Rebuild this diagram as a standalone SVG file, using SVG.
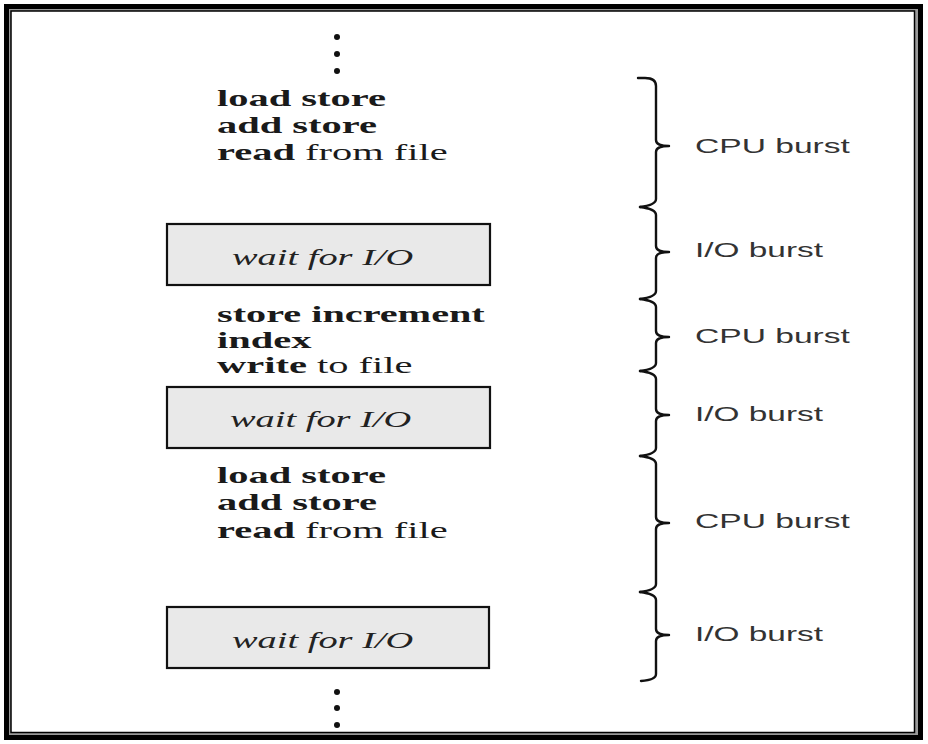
<svg xmlns="http://www.w3.org/2000/svg" width="928" height="744" viewBox="0 0 928 744">
<style>
.code{font-family:"Liberation Serif","Times New Roman",serif;font-size:23px;fill:#1a1a1a}
.b{font-weight:bold}
.box{fill:#e9e9e9;stroke:#111;stroke-width:2.2}
.wait{font-family:"Liberation Serif","Times New Roman",serif;font-size:23px;font-style:italic;fill:#222}
.lbl{font-family:"Liberation Sans",Arial,sans-serif;font-size:20px;fill:#333}
.brace{fill:none;stroke:#111;stroke-width:2.4;stroke-linejoin:round;stroke-linecap:round}
.dot{fill:#111}
</style>
<rect width="928" height="744" fill="#fff"/>
<g id="frame">
<rect x="6.5" y="6.5" width="914" height="731" fill="#9a9a9a" stroke="#000" stroke-width="5"/>
<rect x="11" y="11" width="903.5" height="721.5" fill="#fff" stroke="#000" stroke-width="1.5"/>
</g>
<g id="dots-top">
<circle class="dot" cx="337" cy="37" r="3"/><circle class="dot" cx="337" cy="54" r="3"/><circle class="dot" cx="337" cy="71" r="3"/>
</g>
<g id="cpu1">
<text class="code b" transform="translate(217,106) scale(1.76,1)">load store</text>
<text class="code b" transform="translate(217,133) scale(1.76,1)">add store</text>
<text class="code" transform="translate(217,160) scale(1.76,1)"><tspan class="b">read</tspan> from file</text>
</g>
<g id="io1">
<rect class="box" x="167" y="224" width="323" height="61"/>
<text class="wait" transform="translate(232,265) scale(1.67,1)">wait for I/O</text>
</g>
<g id="cpu2">
<text class="code b" transform="translate(217,322) scale(1.75,1)">store increment</text>
<text class="code b" transform="translate(217,348) scale(1.76,1)">index</text>
<text class="code" transform="translate(217,373) scale(1.76,1)"><tspan class="b">write</tspan> to file</text>
</g>
<g id="io2">
<rect class="box" x="167" y="387" width="323" height="61"/>
<text class="wait" transform="translate(230,427) scale(1.67,1)">wait for I/O</text>
</g>
<g id="cpu3">
<text class="code b" transform="translate(217,483) scale(1.76,1)">load store</text>
<text class="code b" transform="translate(217,510) scale(1.76,1)">add store</text>
<text class="code" transform="translate(217,538) scale(1.76,1)"><tspan class="b">read</tspan> from file</text>
</g>
<g id="io3">
<rect class="box" x="167" y="607" width="322" height="61"/>
<text class="wait" transform="translate(232,648) scale(1.67,1)">wait for I/O</text>
</g>
<g id="dots-bottom">
<circle class="dot" cx="337" cy="692" r="3"/><circle class="dot" cx="337" cy="708" r="3"/><circle class="dot" cx="337" cy="725" r="3"/>
</g>
<g id="connectors">
<path class="brace" d="M638,78 L645,78 Q656,78 656,86 L656,140 Q656,146 669,146 Q656,146 656,152 L656,199 Q656,205 640,207"/>
<path class="brace" d="M640,207 Q656,209 656,215 L656,246 Q656,252 669,252 Q656,252 656,258 L656,291 Q656,297 640,299"/>
<path class="brace" d="M640,299 Q656,301 656,307 L656,331 Q656,337 669,337 Q656,337 656,343 L656,363 Q656,369 640,371"/>
<path class="brace" d="M640,371 Q656,373 656,379 L656,409 Q656,415 669,415 Q656,415 656,421 L656,448 Q656,454 640,456"/>
<path class="brace" d="M640,456 Q656,458 656,464 L656,517 Q656,523 669,523 Q656,523 656,529 L656,584 Q656,590 640,592"/>
<path class="brace" d="M640,592 Q656,594 656,600 L656,629 Q656,635 669,635 Q656,635 656,641 L656,674 Q656,680 641,681"/>
</g>
<g id="label-cpu1"><text class="lbl" transform="translate(695,153) scale(1.68,1)">CPU burst</text></g>
<g id="label-io1"><text class="lbl" transform="translate(695,257) scale(1.67,1)">I/O burst</text></g>
<g id="label-cpu2"><text class="lbl" transform="translate(695,343) scale(1.68,1)">CPU burst</text></g>
<g id="label-io2"><text class="lbl" transform="translate(695,421) scale(1.67,1)">I/O burst</text></g>
<g id="label-cpu3"><text class="lbl" transform="translate(695,528) scale(1.68,1)">CPU burst</text></g>
<g id="label-io3"><text class="lbl" transform="translate(695,641) scale(1.67,1)">I/O burst</text></g>
</svg>
